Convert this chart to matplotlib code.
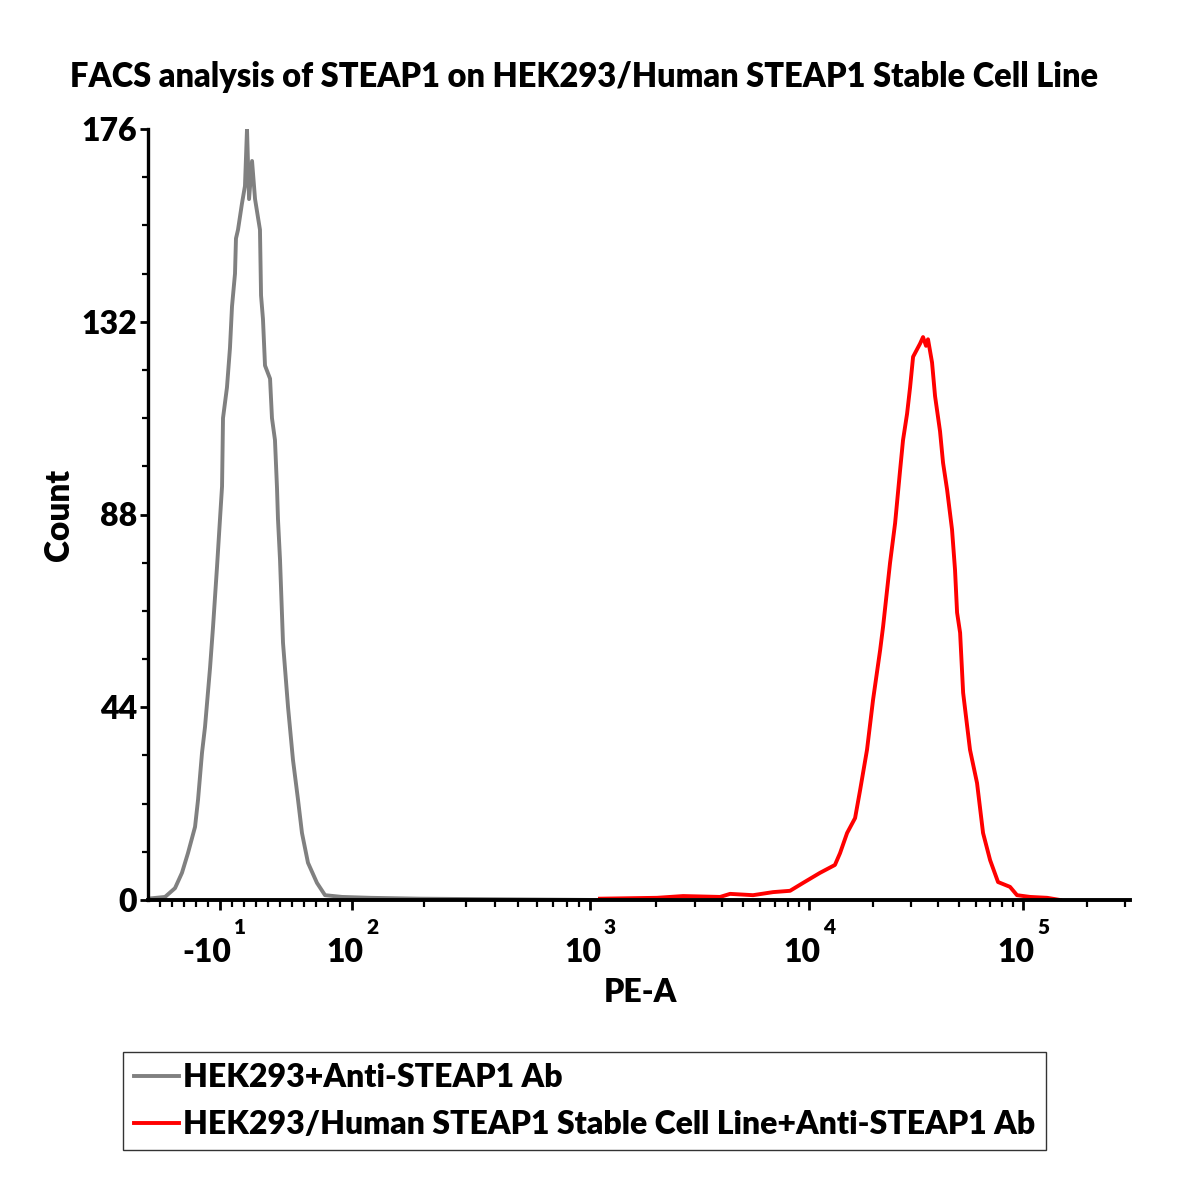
import numpy as np
import matplotlib
matplotlib.use("Agg")
import matplotlib.pyplot as plt
from matplotlib.ticker import FixedLocator, NullFormatter

plt.rcParams["font.family"] = ["Lato", "DejaVu Sans"]
plt.rcParams["font.weight"] = "heavy"
plt.rcParams["axes.labelweight"] = "heavy"

# histogram of the negative control (PE-A value, count)
gray_x = [-66.7, -55.8, -47.5, -41.7, -36.7, -30.8, -28.3, -25.0, -22.5, -18.3,
          -15.8, -12.5, -10.0, -8.3, -7.5, -4.2, -1.7, 0.0, 2.5, 3.3,
          5.0, 8.3, 10.8, 12.5, 14.2, 16.7, 19.2, 23.3, 24.2, 25.8,
          27.5, 31.7, 33.3, 35.8, 37.5, 38.3, 40.0, 42.5, 46.7, 50.8,
          55.0, 58.3, 63.3, 70.8, 77.5, 91.7, 119, 193, 345, 1110]
gray_y = [0.4, 0.7, 2.7, 6.2, 10.7, 16.7, 22.9, 33.6, 39.5, 53.0,
          62.4, 76.0, 87.0, 94.4, 110.0, 117.0, 126.0, 135.5, 143.0, 151.0,
          153.0, 159.0, 163.0, 176.0, 160.0, 168.7, 160.0, 153.0, 138.0, 132.6,
          122.0, 119.0, 110.0, 105.0, 94.0, 87.0, 77.7, 58.7, 44.0, 32.0,
          22.9, 15.3, 8.5, 3.9, 1.1, 0.7, 0.5, 0.3, 0.2, 0.0]

# histogram of the STEAP1 stable cell line
red_x = [1110, 2023, 2660, 3927, 4360, 5550, 6850, 8190, 9390, 11250,
         13210, 13960, 15060, 16410, 17310, 18660, 19910, 21480, 22180, 23910,
         25240, 26620, 27490, 28710, 29650, 30630, 33010, 34090, 35210, 35960,
         37560, 38800, 40930, 42280, 44150, 46560, 48090, 49170, 50800, 52480,
         56500, 60950, 65020, 70150, 76400, 86900, 93700, 107900, 129500, 149000]
red_y = [0.3, 0.5, 0.9, 0.7, 1.4, 1.1, 1.8, 2.1, 3.9, 6.2,
         8.0, 10.7, 15.3, 18.7, 25.0, 34.3, 45.7, 57.0, 62.4, 77.0,
         86.0, 98.0, 105.0, 111.0, 117.0, 124.0, 127.0, 128.5, 126.5, 128.0,
         122.7, 115.0, 107.0, 99.8, 93.7, 84.6, 75.4, 65.6, 61.0, 47.3,
         34.3, 26.7, 15.3, 9.1, 4.1, 3.0, 1.1, 0.7, 0.5, 0.0]

major_x = [-10, 100, 1000, 10000, 100000]
major_base = ["-10", "10", "10", "10", "10"]
major_exp = ["1", "2", "3", "4", "5"]
y_ticks = [0, 44, 88, 132, 176]

# biexponential-like display: linear below 100, log above
DEC = [2, 3, 4, 5, 6.5]
POS = [352, 590, 809, 1023, 1344]
SLOPE = 1.2


def fwd(v):
    v = np.asarray(v, dtype=float)
    lin = 352 + (v - 100) * SLOPE
    lg = np.interp(np.log10(np.maximum(v, 1e-6)), DEC, POS)
    return np.where(v <= 100, lin, lg)


def inv(p):
    p = np.asarray(p, dtype=float)
    lin = 100 + (p - 352) / SLOPE
    lg = 10 ** np.interp(p, POS, DEC)
    return np.where(p <= 352, lin, lg)


fig = plt.figure(figsize=(12.04, 12.04), dpi=100)
ax = fig.add_axes([148 / 1204, 1 - 900 / 1204, (1130 - 148) / 1204, (900 - 129) / 1204])
ax.set_xscale("function", functions=(fwd, inv))

ax.plot(gray_x, gray_y, color="#808080", lw=2.8, label="HEK293+Anti-STEAP1 Ab")
ax.plot(red_x, red_y, color="#ff0000", lw=2.8,
        label="HEK293/Human STEAP1 Stable Cell Line+Anti-STEAP1 Ab")

ax.set_xlim(-70, 316000)
ax.set_ylim(0, 176)

for s in ["top", "right"]:
    ax.spines[s].set_visible(False)
ax.spines["left"].set_linewidth(2.4)
ax.spines["bottom"].set_linewidth(2.8)

# x ticks
minor_x = [v for v in range(-60, 100, 10) if v != -10]
for d in [100, 1000, 10000]:
    minor_x += [m * d for m in range(2, 10)]
minor_x += [200000, 300000]
ax.xaxis.set_major_locator(FixedLocator(major_x))
ax.xaxis.set_minor_locator(FixedLocator(minor_x))
ax.xaxis.set_major_formatter(NullFormatter())
ax.xaxis.set_minor_formatter(NullFormatter())
ax.tick_params(axis="x", which="major", length=7, width=2, direction="out")
ax.tick_params(axis="x", which="minor", length=5, width=1.6, direction="out")

for v, b, e in zip(major_x, major_base, major_exp):
    ax.annotate(b, xy=(v, 0), xycoords=("data", "axes fraction"),
                xytext=(8, -38), textcoords="offset points",
                ha="right", va="center", fontsize=23)
    ax.annotate(e, xy=(v, 0), xycoords=("data", "axes fraction"),
                xytext=(10, -20), textcoords="offset points",
                ha="left", va="center", fontsize=15)

# y ticks
ax.set_yticks(y_ticks)
ax.set_yticks(np.arange(0, 177, 11), minor=True)
ax.tick_params(axis="y", which="major", length=6, width=2, labelsize=23, pad=2)
ax.tick_params(axis="y", which="minor", length=4, width=1.6)

ax.set_ylabel("Count", fontsize=24)
ax.yaxis.set_label_coords(-0.0743, 0.5)
ax.set_xlabel("PE-A", fontsize=23)
ax.xaxis.set_label_coords(0.501, -0.101)

fig.text(584 / 1204, 1 - 77 / 1204,
         "FACS analysis of STEAP1 on HEK293/Human STEAP1 Stable Cell Line",
         ha="center", va="center", fontsize=23.5)

leg = ax.legend(loc="upper left", bbox_to_anchor=(123 / 1204, 1 - 1052 / 1204),
                bbox_transform=fig.transFigure, fontsize=23, frameon=True,
                fancybox=False, edgecolor="black", handlelength=1.4,
                handletextpad=0.12, borderpad=0.35, labelspacing=0.55,
                borderaxespad=0)
leg.get_frame().set_linewidth(1.0)

fig.savefig("out.png", dpi=100)
